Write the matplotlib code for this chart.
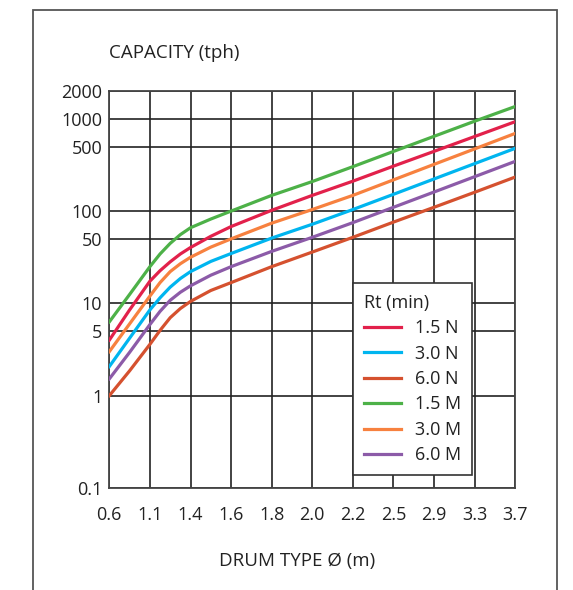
import matplotlib.pyplot as plt
from matplotlib.patches import Rectangle
from matplotlib.ticker import FixedLocator, NullLocator

plt.rcParams['font.family'] = ['Open Sans', 'DejaVu Sans']

# drum types along the x axis (evenly spaced categories)
drum_labels = ['0.6', '1.1', '1.4', '1.6', '1.8', '2.0', '2.2', '2.5', '2.9', '3.3', '3.7']
pos = [0, 0.5, 1, 1.25, 1.5, 1.75, 2, 2.5, 3, 4, 5, 6, 7, 8, 9, 10]

cap_15N = [4.0, 8.5, 17.4, 22.6, 28.2, 34.3, 40.3, 53.3, 68, 102, 148, 211, 307, 444, 643, 931]
cap_30N = [2.07, 4.2, 8.5, 11.5, 15.0, 18.6, 22.1, 28.5, 34.7, 51, 72, 104, 152, 223, 327, 479]
cap_60N = [1.0, 1.86, 3.6, 5.1, 7.0, 8.8, 10.5, 13.8, 16.8, 25, 36, 52, 76, 110, 160, 234]
cap_15M = [6.3, 12.5, 25, 34.3, 44.7, 55.6, 66, 82, 100, 148, 209, 303, 443, 646, 942, 1360]
cap_30M = [3.0, 6.0, 12.0, 16.8, 22.1, 26.9, 31.6, 40.7, 50, 74, 104, 148, 218, 321, 472, 695]
cap_60M = [1.52, 2.95, 5.9, 8.2, 10.8, 13.2, 15.5, 20.2, 25, 36.6, 52, 75, 110, 161, 236, 346]

series_labels = ['1.5 N', '3.0 N', '6.0 N', '1.5 M', '3.0 M', '6.0 M']
series_colors = ['#e2214b', '#00b5ef', '#d5512f', '#4db148', '#f7813f', '#8c5ba8']
series_values = [cap_15N, cap_30N, cap_60N, cap_15M, cap_30M, cap_60M]

y_ticks = [0.1, 1, 5, 10, 50, 100, 500, 1000, 2000]
y_ticklabels = ['0.1', '1', '5', '10', '50', '100', '500', '1000', '2000']

W, H = 573, 590
fig = plt.figure(figsize=(W / 100, H / 100), dpi=100)
ax = fig.add_axes([109.3 / W, 102 / H, 406 / W, 397 / H])

for vals, col, lab in zip(series_values, series_colors, series_labels):
    ax.plot(pos, vals, color=col, lw=2.3, label=lab, solid_joinstyle='round', zorder=3)

ax.set_yscale('log')
ax.set_ylim(0.1, 2000)
ax.set_xlim(0, len(drum_labels) - 1)
ax.yaxis.set_major_locator(FixedLocator(y_ticks))
ax.yaxis.set_minor_locator(NullLocator())
ax.set_yticklabels(y_ticklabels)
ax.set_xticks(range(len(drum_labels)))
ax.set_xticklabels(drum_labels)

ax.grid(True, which='major', color='#222222', lw=1.2, zorder=1)
for sp in ax.spines.values():
    sp.set_color('#444444')
    sp.set_linewidth(1.3)
ax.tick_params(axis='both', length=0, labelsize=13, colors='#222222')
ax.tick_params(axis='y', pad=5)
ax.tick_params(axis='x', pad=13)

leg = ax.legend(title='Rt (min)', loc='upper left',
                bbox_to_anchor=(352.7 / W, 1 - 283 / H), bbox_transform=fig.transFigure,
                borderaxespad=0, fancybox=False, framealpha=1, edgecolor='#333333',
                fontsize=13, title_fontsize=13, alignment='left',
                handlelength=2.1, handletextpad=0.75, labelspacing=0.41,
                borderpad=0.6)
leg.get_frame().set_linewidth(1.2)
leg.set_zorder(5)
for t in leg.get_texts():
    t.set_color('#222222')
leg.get_title().set_color('#222222')

fig.text(109.3 / W, 1 - 53 / H, 'CAPACITY (tph)', fontsize=13.5, color='#222222',
         ha='left', va='center')
fig.text(297 / W, 1 - 561 / H, 'DRUM TYPE Ø (m)', fontsize=13.5, color='#222222',
         ha='center', va='center')

# outer frame around the figure (open at the bottom edge)
fig.patches.append(Rectangle((32.5 / W, -0.05), (557 - 32.5) / W, 1.05 - 10 / H,
                             transform=fig.transFigure, fill=False,
                             edgecolor='#555555', lw=1.3))

fig.savefig('out.png', dpi=100)
